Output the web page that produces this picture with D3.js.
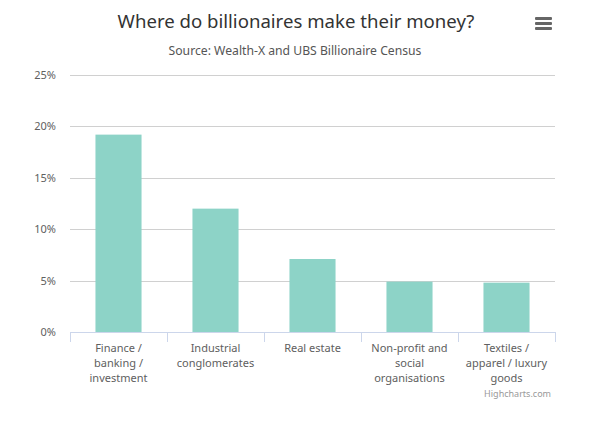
<!DOCTYPE html>
<html><head><meta charset="utf-8">
<script src="https://cdn.jsdelivr.net/npm/d3@7"></script>
<style>body{margin:0;background:#fff}svg{display:block}</style>
</head><body>
<svg id="c" width="593" height="423"></svg>
<script>
const categories = ["Finance / banking / investment", "Industrial conglomerates", "Real estate", "Non-profit and social organisations", "Textiles / apparel / luxury goods"];
const labelLines = [["Finance /", "banking /", "investment"], ["Industrial", "conglomerates"], ["Real estate"], ["Non-profit and", "social", "organisations"], ["Textiles /", "apparel / luxury", "goods"]];
const values = [19.2, 12.0, 7.1, 4.9, 4.8];
const yTicks = [0, 5, 10, 15, 20, 25];
const titleText = "Where do billionaires make their money?";
const subtitleText = "Source: Wealth-X and UBS Billionaire Census";
const creditText = "Highcharts.com";

(function() {
const font = "'Noto Sans', 'DejaVu Sans', sans-serif";
const svg = d3.select("#c");
const pl = 70, pr = 555, pt = 75, pb = 332;

const x = d3.scaleBand().domain(categories).range([pl, pr]).paddingInner(0).paddingOuter(0);
const y = d3.scaleLinear().domain([0, 25]).range([pb, pt]);

svg.append("text").attr("x", 296).attr("y", 28).attr("text-anchor", "middle")
  .attr("font-family", font).attr("font-size", 18.6).attr("fill", "#333").text(titleText);
svg.append("text").attr("x", 295).attr("y", 55).attr("text-anchor", "middle")
  .attr("font-family", font).attr("font-size", 12.2).attr("fill", "#555").text(subtitleText);

svg.append("g").selectAll("rect").data([0, 1, 2]).join("rect")
  .attr("x", 535).attr("y", d => 17 + d * 5).attr("width", 17).attr("height", 3)
  .attr("rx", 1).attr("fill", "#666");

svg.append("g").selectAll("line").data(yTicks.filter(d => d > 0)).join("line")
  .attr("x1", pl).attr("x2", pr).attr("y1", d => Math.round(y(d)) + 0.5).attr("y2", d => Math.round(y(d)) + 0.5)
  .attr("stroke", "#d0d0d0").attr("stroke-width", 1);

svg.append("g").selectAll("text").data(yTicks).join("text")
  .attr("x", 56).attr("y", d => y(d) + 4).attr("text-anchor", "end")
  .attr("font-family", font).attr("font-size", 11).attr("fill", "#606060").text(d => d + "%");

const bw = x.bandwidth() * 0.475;
svg.append("g").selectAll("rect").data(values).join("rect")
  .attr("x", (d, i) => x(categories[i]) + (x.bandwidth() - bw) / 2)
  .attr("y", d => y(d)).attr("width", bw).attr("height", d => y(0) - y(d))
  .attr("fill", "#8dd3c7");

svg.append("line").attr("x1", pl).attr("x2", pr).attr("y1", pb + 0.5).attr("y2", pb + 0.5)
  .attr("stroke", "#ccd6eb");
const bounds = categories.map(c => x(c)).concat([pr]);
svg.append("g").selectAll("line").data(bounds).join("line")
  .attr("x1", d => Math.round(d) + 0.5).attr("x2", d => Math.round(d) + 0.5)
  .attr("y1", pb).attr("y2", pb + 10).attr("stroke", "#ccd6eb");

const lab = svg.append("g").selectAll("text").data(categories).join("text")
  .attr("x", c => x(c) + x.bandwidth() / 2).attr("y", 352)
  .attr("text-anchor", "middle").attr("font-family", font).attr("font-size", 11).attr("fill", "#606060");
lab.each(function(c, i) {
  d3.select(this).selectAll("tspan").data(labelLines[i]).join("tspan")
    .attr("x", x(c) + x.bandwidth() / 2).attr("dy", (d, j) => j === 0 ? 0 : 15).text(d => d);
});

svg.append("text").attr("x", 551).attr("y", 397).attr("text-anchor", "end")
  .attr("font-family", font).attr("font-size", 9).attr("fill", "#999").text(creditText);
})();
</script>
</body></html>
